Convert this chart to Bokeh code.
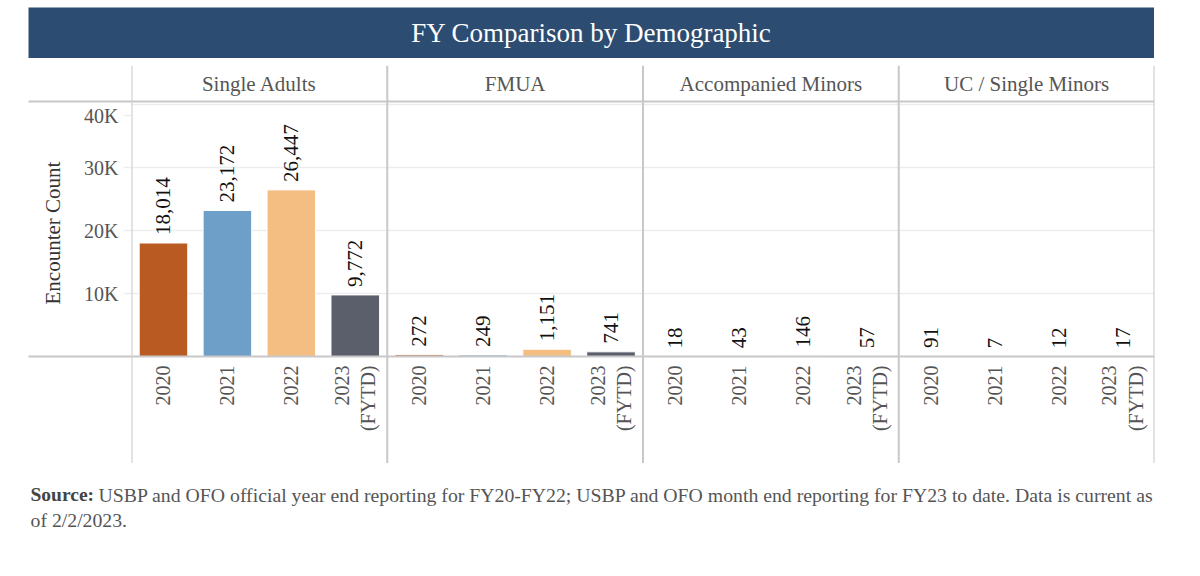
from math import pi
from bokeh.plotting import figure
from bokeh.models import FactorRange, Range1d, FixedTicker, Span, ColumnDataSource, Title
from bokeh.embed import file_html
from bokeh.resources import INLINE
from bokeh.core.properties import value

# ---------------- data ----------------
groups = ["Single Adults", "FMUA", "Accompanied Minors", "UC / Single Minors"]
years = ["2020", "2021", "2022", "2023"]
year_labels = ["2020", "2021", "2022", "2023\n(FYTD)"]
year_colors = ["#B95A23", "#6E9FC9", "#F4BE83", "#5A5F6B"]
single_adults = [18014, 23172, 26447, 9772]
fmua = [272, 249, 1151, 741]
accompanied_minors = [18, 43, 146, 57]
uc_single_minors = [91, 7, 12, 17]
y_ticks = [10000, 20000, 30000, 40000]
y_tick_labels = ["10K", "20K", "30K", "40K"]
title_text = "FY Comparison by Demographic"
y_title = "Encounter Count"
source_bold = "Source:"
source_lines = [
    "USBP and OFO official year end reporting for FY20-FY22; USBP and OFO month end reporting for FY23 to date. Data is current as",
    "of 2/2/2023.",
]

# ---------------- style / layout ----------------
FONT_NAME = "Liberation Serif"
FONT = value(FONT_NAME)
GRAY_TXT = "#555555"
LINE = "#c8c8c8"
GRID = "#ededed"
Y_MAX = 40000
PLOT_PX = 252.0            # pixels from 0 to Y_MAX
U = Y_MAX / PLOT_PX        # data units per pixel
y_start = -107 * U         # room for year labels below baseline
y_end = Y_MAX + 39 * U     # room for header row
header_line_y = Y_MAX + 3 * U
header_text_y = Y_MAX + 21 * U
# top tick label is nudged down inside the pane (as in the original)
label_pos = [v if v < Y_MAX else v - 11 * U for v in y_ticks]

series = [single_adults, fmua, accompanied_minors, uc_single_minors]
xs, tops, cols, labels, ylab = [], [], [], [], []
for g, vals in zip(groups, series):
    for y, yl, v, c in zip(years, year_labels, vals, year_colors):
        xs.append((g, y))
        tops.append(v)
        cols.append(c)
        labels.append(f"{v:,}")
        ylab.append(yl)
src = ColumnDataSource(dict(x=xs, top=tops, color=cols, label=labels, ylab=ylab, zero=[0] * len(xs)))

# ---------------- title bar ----------------
t = figure(frame_width=1126, frame_height=51, x_range=Range1d(0, 1), y_range=Range1d(0, 1),
           toolbar_location=None, output_backend="svg", min_border_left=28, min_border_right=0,
           min_border_top=7, min_border_bottom=0, x_axis_location=None, y_axis_location=None,
           background_fill_color="#2C4C72", outline_line_color=None)
t.grid.visible = False
t.text(x=[0.5], y=[0.5], text=[title_text], text_font=FONT, text_font_size="27px",
       text_color="white", text_align="center", text_baseline="middle")

# ---------------- main chart ----------------
x_range = FactorRange(*xs, factor_padding=0, group_padding=0, subgroup_padding=0, range_padding=0)
p = figure(frame_width=1023, frame_height=398, x_range=x_range, y_range=Range1d(y_start, y_end),
           toolbar_location=None, output_backend="svg", min_border_left=131, min_border_right=4,
           min_border_top=7, min_border_bottom=0, x_axis_location=None,
           outline_line_color=None, background_fill_color="white", border_fill_color="white")

p.xgrid.grid_line_color = None
p.ygrid.grid_line_color = GRID
p.ygrid.grid_line_width = 1.5
p.ygrid.ticker = FixedTicker(ticks=y_ticks)

ax = p.yaxis[0]
ax.ticker = FixedTicker(ticks=label_pos, minor_ticks=[0, header_line_y])
ax.major_label_overrides = {t_: l for t_, l in zip(label_pos, y_tick_labels)}
ax.axis_line_color = None
ax.major_tick_in = 0
ax.major_tick_out = 8
ax.major_tick_line_color = GRID
ax.major_tick_line_width = 1.5
ax.minor_tick_in = 0
ax.minor_tick_out = 103
ax.minor_tick_line_color = LINE
ax.minor_tick_line_width = 2
ax.major_label_standoff = -90
ax.major_label_text_font = FONT_NAME
ax.major_label_text_font_size = "20px"
ax.major_label_text_color = GRAY_TXT

# y axis title
p.add_layout(Title(text=y_title, align="left", offset=159, standoff=31, vertical_align="middle",
                   text_font=FONT_NAME, text_font_size="21px", text_font_style="normal",
                   text_color="#333333"), "left")

# panel lines
for loc in [0, header_line_y]:
    p.add_layout(Span(location=loc, dimension="width", line_color=LINE, line_width=2))
for i in range(len(groups) + 1):
    p.add_layout(Span(location=float(i * len(years)), dimension="height", line_color=LINE, line_width=2))

# bars
p.vbar(x="x", top="top", width=0.76, source=src, fill_color="color", line_color="white", line_width=1)

# value labels
p.text(x="x", y="top", text="label", source=src, angle=pi / 2, y_offset=-8,
       text_align="left", text_baseline="middle", text_font=FONT, text_font_size="21px",
       text_color="#111111")

# year labels
p.text(x="x", y="zero", text="ylab", source=src, angle=pi / 2, y_offset=9,
       text_align="right", text_baseline="middle", text_font=FONT, text_font_size="20px",
       text_color=GRAY_TXT, text_line_height=1.2)

# header labels
p.text(x=groups, y=[header_text_y] * len(groups), text=groups, text_align="center",
       text_baseline="middle", text_font=FONT, text_font_size="21px", text_color=GRAY_TXT)

# ---------------- footer ----------------
f = figure(frame_width=1180, frame_height=80, x_range=Range1d(0, 1180), y_range=Range1d(80, 0),
           toolbar_location=None, output_backend="svg", min_border=0,
           x_axis_location=None, y_axis_location=None, outline_line_color=None)
f.grid.visible = False
f.text(x=[30], y=[31], text=[source_bold], text_font=FONT, text_font_style="bold",
       text_font_size="19.5px", text_color="#444444", text_align="left", text_baseline="middle")
f.text(x=[98, 30], y=[31, 56], text=source_lines, text_font=FONT,
       text_font_size="19.75px", text_color=GRAY_TXT, text_align="left", text_baseline="middle")

open("out.html", "w").write(file_html([t, p, f], INLINE))
